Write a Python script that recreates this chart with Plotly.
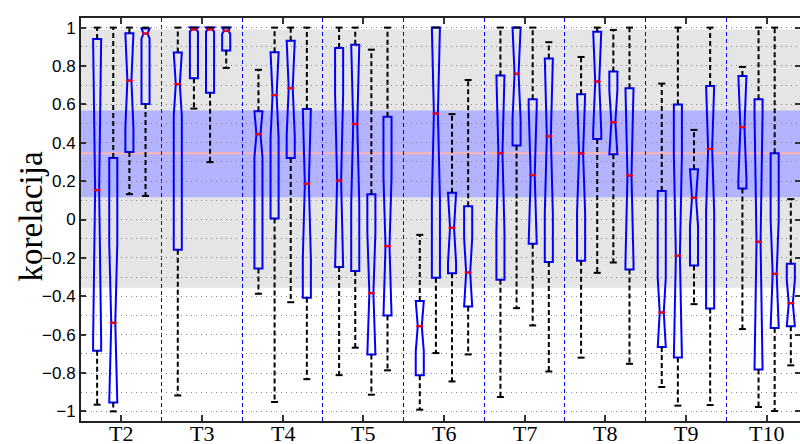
import plotly.graph_objects as go

# ---- data ----
GROUPS = ["T2", "T3", "T4", "T5", "T6", "T7", "T8", "T9", "T10"]
GROUP_POS = [2, 3, 4, 5, 6, 7, 8, 9, 10]
SERIES_OFFSETS = [-0.3, -0.1, 0.1, 0.3]

WHISK_LO = [
    -0.965, -1.000, 0.132, 0.123,
    -0.917, 0.578, 0.299, 0.790,
    -0.387, -0.951, -0.431, -0.832,
    -0.811, -0.668, -0.913, -0.786,
    -0.991, -0.696, -0.844, -0.703,
    -0.925, -0.462, -0.552, -0.792,
    -0.720, -0.278, -0.224, -0.752,
    -0.873, -0.970, -0.441, -0.967,
    -0.571, -0.977, -0.998, -0.760,
]
Q1 = [
    -0.684, -0.953, 0.352, 0.602,
    -0.158, 0.736, 0.661, 0.880,
    -0.255, 0.005, 0.321, -0.408,
    -0.248, -0.269, -0.703, -0.500,
    -0.812, -0.304, -0.280, -0.453,
    -0.314, 0.385, -0.127, -0.222,
    -0.215, 0.420, 0.340, -0.260,
    -0.665, -0.719, -0.240, -0.464,
    0.161, -0.781, -0.566, -0.556,
]
MEDIAN = [
    0.153, -0.538, 0.724, 0.969,
    0.705, 0.990, 0.990, 0.984,
    0.444, 0.648, 0.684, 0.186,
    0.203, 0.497, -0.384, -0.139,
    -0.556, 0.552, -0.043, -0.276,
    0.345, 0.760, 0.231, 0.434,
    0.344, 0.719, 0.507, 0.229,
    -0.484, -0.189, 0.113, 0.368,
    0.481, -0.116, -0.283, -0.436,
]
Q3 = [
    0.941, 0.321, 0.970, 0.995,
    0.870, 1.000, 1.000, 1.000,
    0.564, 0.872, 0.932, 0.576,
    0.894, 0.911, 0.132, 0.536,
    -0.425, 1.000, 0.139, 0.069,
    0.750, 1.000, 0.627, 0.839,
    0.653, 0.979, 0.771, 0.684,
    0.149, 0.599, 0.262, 0.696,
    0.748, 0.627, 0.345, -0.231,
]
WHISK_HI = [
    1.000, 1.000, 1.000, 1.000,
    1.000, 1.000, 1.000, 1.000,
    0.780, 1.000, 1.000, 1.000,
    1.000, 1.000, 0.885, 1.000,
    -0.080, 1.000, 0.549, 0.727,
    1.000, 1.000, 1.000, 0.924,
    0.847, 1.000, 0.988, 1.000,
    0.708, 1.000, 0.467, 1.000,
    0.795, 1.000, 1.000, 0.106,
]

GRAY_BAND = (-0.355, 0.99)
BLUE_BAND = (0.116, 0.568)
REF_LINE = 0.345

Y_TICKS = [-1, -0.8, -0.6, -0.4, -0.2, 0, 0.2, 0.4, 0.6, 0.8, 1]
Y_TICK_TEXT = ["\u22121", "\u22120.8", "\u22120.6", "\u22120.4", "\u22120.2", "0",
               "0.2", "0.4", "0.6", "0.8", "1"]
Y_LABEL = "korelacija"

# ---- derived positions ----
pos = [g + o for g in GROUP_POS for o in SERIES_OFFSETS]
# notch kept inside the box (as drawn in the reference)
notch = [max(min(m - q1, q3 - m), 0.004) for q1, m, q3 in zip(Q1, MEDIAN, Q3)]
separators = [g + 0.5 for g in GROUP_POS[:-1]]

fig = go.Figure()

# whiskers
wx, wy = [], []
for p, lo, q1, q3, hi in zip(pos, WHISK_LO, Q1, Q3, WHISK_HI):
    wx += [p, p, None, p, p, None]
    wy += [q3, hi, None, q1, lo, None]
fig.add_trace(go.Scatter(
    x=wx, y=wy, mode="lines",
    line=dict(color="black", width=2, dash="5px,3px"),
    hoverinfo="skip", showlegend=False,
))
# whisker caps
fig.add_trace(go.Scatter(
    x=pos + pos, y=WHISK_HI + WHISK_LO, mode="markers",
    marker=dict(symbol="line-ew", size=5, line=dict(color="black", width=2)),
    hoverinfo="skip", showlegend=False,
))

# boxes
fig.add_trace(go.Box(
    x=pos, q1=Q1, median=MEDIAN, q3=Q3, lowerfence=Q1, upperfence=Q3,
    notched=True, notchspan=notch, notchwidth=0.25, width=0.1,
    line=dict(color="#0000ff", width=2), fillcolor="rgba(0,0,0,0)",
    boxpoints=False, whiskerwidth=0, hoverinfo="skip", showlegend=False,
))

# medians
fig.add_trace(go.Scatter(
    x=pos, y=MEDIAN, mode="markers",
    marker=dict(symbol="line-ew", size=5, line=dict(color="#ff0000", width=2)),
    hoverinfo="skip", showlegend=False,
))

# bands and reference line
fig.add_shape(type="rect", xref="paper", yref="y", x0=0, x1=1,
              y0=GRAY_BAND[0], y1=GRAY_BAND[1], fillcolor="#e5e5e5",
              line_width=0, layer="below")
fig.add_shape(type="rect", xref="paper", yref="y", x0=0, x1=1,
              y0=BLUE_BAND[0], y1=BLUE_BAND[1], fillcolor="#b3b3ff",
              line_width=0, layer="below")
fig.add_shape(type="line", xref="paper", yref="y", x0=0, x1=1,
              y0=REF_LINE, y1=REF_LINE, line=dict(color="#ffb3b3", width=2),
              layer="below")

# y-axis label
fig.add_annotation(
    text=Y_LABEL, textangle=-90, xref="paper", yref="paper",
    x=0, y=0.5, xanchor="center", yanchor="middle", xshift=-51, yshift=3,
    showarrow=False,
    font=dict(family="Liberation Serif", size=33, color="black"),
)
# x category labels (placed tight under the axis, as in the reference)
for gp, name in zip(GROUP_POS, GROUPS):
    fig.add_annotation(
        text=name, xref="x", yref="paper", x=gp, y=0,
        xanchor="center", yanchor="top", yshift=1, borderpad=0,
        showarrow=False,
        font=dict(family="Liberation Serif", size=22, color="black"),
    )

fig.update_layout(
    width=800, height=444,
    margin=dict(l=81, r=0, t=18, b=23, autoexpand=False),
    paper_bgcolor="white", plot_bgcolor="white",
    showlegend=False,
)
fig.update_xaxes(
    range=[1.5, 10.414], tickmode="array", tickvals=GROUP_POS,
    showticklabels=False,
    ticks="inside", ticklen=6, tickwidth=1.5, tickcolor="#333",
    showline=True, linecolor="#222", linewidth=2, mirror="ticks",
    showgrid=False, zeroline=False, automargin=False,
    minor=dict(tickmode="array", tickvals=separators, showgrid=True,
               gridcolor="#0000ff", griddash="4px,3px", gridwidth=1, ticks=""),
)
fig.update_yaxes(
    range=[-1.05, 1.05], tickmode="array", tickvals=Y_TICKS, ticktext=Y_TICK_TEXT,
    ticks="inside", ticklen=5, tickwidth=1.5, tickcolor="#333",
    showline=True, linecolor="#222", linewidth=2, mirror="ticks",
    showgrid=True, gridcolor="#888", griddash="1px,4px", gridwidth=1,
    zeroline=False, automargin=False,
    tickfont=dict(family="Liberation Sans", size=17, color="black"),
    minor=dict(dtick=0.1, tick0=0, showgrid=True, gridcolor="#888",
               griddash="1px,4px", gridwidth=1, ticks=""),
)

# remove the default 8px page margin so the 800x444 figure fills the window
fig.write_html("out.html",
               config={"displayModeBar": False},
               post_script="document.body.style.margin='0';"
                           "document.body.style.overflow='hidden';")
